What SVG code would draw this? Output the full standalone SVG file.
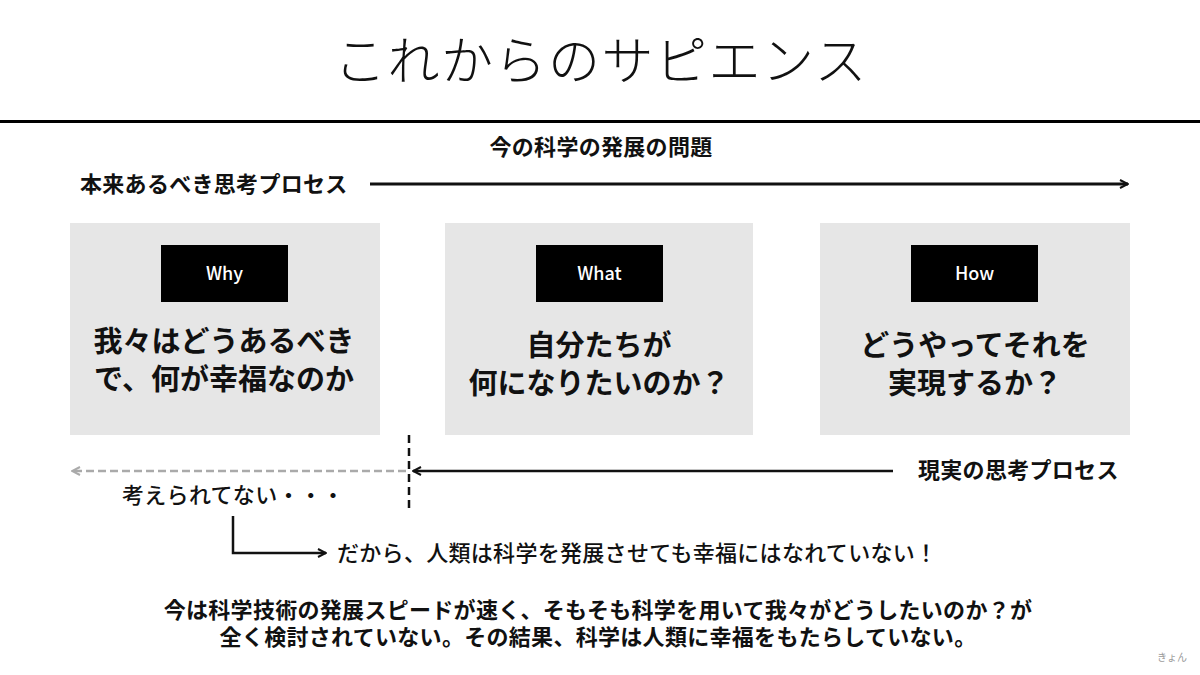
<svg xmlns="http://www.w3.org/2000/svg" width="1200" height="675" viewBox="0 0 1200 675">
<defs>
<style>
text{font-family:"Noto Sans CJK JP","Noto Sans",sans-serif;fill:#111}
.t{font-size:22px;font-weight:700;letter-spacing:0.3px}
.big{font-size:29px;font-weight:700;text-anchor:middle}
.lab{font-size:18px;font-weight:500;fill:#fff;text-anchor:middle}
.box{fill:#e6e6e6}
.tag{fill:#000}
</style>
<marker id="ah" viewBox="0 0 10 10" refX="9" refY="5" markerWidth="10" markerHeight="10" markerUnits="userSpaceOnUse" orient="auto-start-reverse"><path d="M1 1 L9 5 L1 9" fill="none" stroke="#111" stroke-width="2"/></marker>
<marker id="ahg" viewBox="0 0 10 10" refX="9" refY="5" markerWidth="10" markerHeight="10" markerUnits="userSpaceOnUse" orient="auto-start-reverse"><path d="M1 1 L9 5 L1 9" fill="none" stroke="#aaa" stroke-width="2"/></marker>
</defs>
<rect width="1200" height="675" fill="#fff"/>
<text x="601" y="80" text-anchor="middle" style="font-size:52px;font-weight:300;letter-spacing:1.5px">これからのサピエンス</text>
<rect x="0" y="120" width="1200" height="3" fill="#000"/>
<text class="t" x="601" y="155" text-anchor="middle">今の科学の発展の問題</text>
<text class="t" x="80" y="192">本来あるべき思考プロセス</text>
<g id="why">
<rect class="box" x="70" y="223" width="310" height="212"/>
<rect class="tag" x="161" y="245" width="127" height="57"/>
<text class="lab" x="224.5" y="280">Why</text>
<text class="big" x="224" y="352">我々はどうあるべき</text>
<text class="big" x="224" y="390">で、何が幸福なのか</text>
</g>
<g id="what">
<rect class="box" x="445" y="223" width="308" height="212"/>
<rect class="tag" x="536" y="245" width="127" height="57"/>
<text class="lab" x="599.5" y="280">What</text>
<text class="big" x="599" y="356">自分たちが</text>
<text class="big" x="599" y="394">何になりたいのか？</text>
</g>
<g id="how">
<rect class="box" x="820" y="223" width="310" height="212"/>
<rect class="tag" x="911" y="245" width="127" height="57"/>
<text class="lab" x="974.5" y="280">How</text>
<text class="big" x="975" y="356">どうやってそれを</text>
<text class="big" x="975" y="394">実現するか？</text>
</g>
<text class="t" x="918" y="478">現実の思考プロセス</text>
<text class="t" x="122" y="503" style="font-weight:500">考えられてない・・・</text>
<text class="t" x="337" y="561" style="font-weight:500">だから、人類は科学を発展させても幸福にはなれていない！</text>
<text class="t" x="598" y="618" text-anchor="middle">今は科学技術の発展スピードが速く、そもそも科学を用いて我々がどうしたいのか？が</text>
<text class="t" x="598" y="645" text-anchor="middle">全く検討されていない。その結果、科学は人類に幸福をもたらしていない。</text>
<text x="1172" y="661" text-anchor="middle" style="font-size:10px;fill:#999">きょん</text>
<g id="connectors" fill="none">
<line x1="370" y1="184" x2="1128" y2="184" stroke="#111" stroke-width="3" marker-end="url(#ah)"/>
<line x1="409" y1="435" x2="409" y2="510" stroke="#111" stroke-width="2.5" stroke-dasharray="8,5"/>
<line x1="406" y1="471" x2="72" y2="471" stroke="#aaa" stroke-width="2.5" stroke-dasharray="8,4" marker-end="url(#ahg)"/>
<line x1="893" y1="471" x2="413" y2="471" stroke="#111" stroke-width="2.5" marker-end="url(#ah)"/>
<polyline points="233,516 233,553 326,553" stroke="#111" stroke-width="2.5" marker-end="url(#ah)"/>
</g>
</svg>
